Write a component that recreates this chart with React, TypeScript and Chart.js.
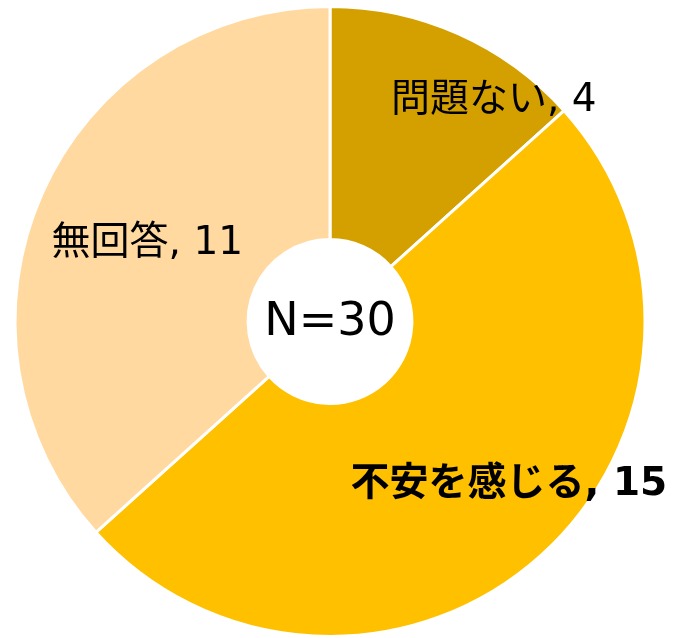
import React, { useEffect, useRef } from "react";
import { Chart, registerables } from "chart.js";

Chart.register(...registerables);

const categories = ["問題ない", "不安を感じる", "無回答"];
const values = [4, 15, 11];
const colors = ["#D4A000", "#FFC000", "#FFD9A0"];
const centerText = "N=30";
const boldLabel = [false, true, false];
// label anchor as fraction of outer radius from center
const labelOffsets = [
  [0.52, -0.7],
  [0.568, 0.52],
  [-0.58, -0.246],
];

const FONT = '"DejaVu Sans", "Noto Sans CJK JP", sans-serif';

const labelPlugin = {
  id: "labelPlugin",
  afterDraw(chart: any) {
    const ctx = chart.ctx;
    const meta = chart.getDatasetMeta(0);
    const arc0 = meta.data[0];
    const cx = arc0.x;
    const cy = arc0.y;
    const r = arc0.outerRadius;
    const ir = arc0.innerRadius;
    ctx.save();
    ctx.beginPath();
    ctx.arc(cx, cy, ir, 0, Math.PI * 2);
    ctx.fillStyle = "#FFFFFF";
    ctx.fill();
    ctx.fillStyle = "#000000";
    ctx.textAlign = "center";
    ctx.textBaseline = "middle";
    ctx.font = `400 46px ${FONT}`;
    ctx.fillText(centerText, cx, cy + 2);
    categories.forEach((c, i) => {
      ctx.font = `${boldLabel[i] ? 700 : 400} 39px ${FONT}`;
      const [fx, fy] = labelOffsets[i];
      ctx.fillText(`${c}, ${values[i]}`, cx + fx * r, cy + fy * r);
    });
    ctx.restore();
  },
};

export default function App() {
  const ref = useRef<HTMLCanvasElement>(null);
  useEffect(() => {
    const chart = new Chart(ref.current!, {
      type: "doughnut",
      data: {
        labels: categories,
        datasets: [
          {
            data: values,
            backgroundColor: colors,
            borderColor: "#FFFFFF",
            borderWidth: 3,
          },
        ],
      },
      options: {
        responsive: false,
        animation: false,
        cutout: "26%",
        layout: { padding: { left: 13, right: 37, top: 5, bottom: 0 } },
        plugins: { legend: { display: false }, tooltip: { enabled: false } },
      },
      plugins: [labelPlugin],
    });
    return () => chart.destroy();
  }, []);
  return (
    <div style={{ position: "fixed", left: 0, top: 0, width: 684, height: 638, background: "#fff" }}>
      <canvas ref={ref} width={684} height={638} style={{ width: 684, height: 638 }} />
    </div>
  );
}
